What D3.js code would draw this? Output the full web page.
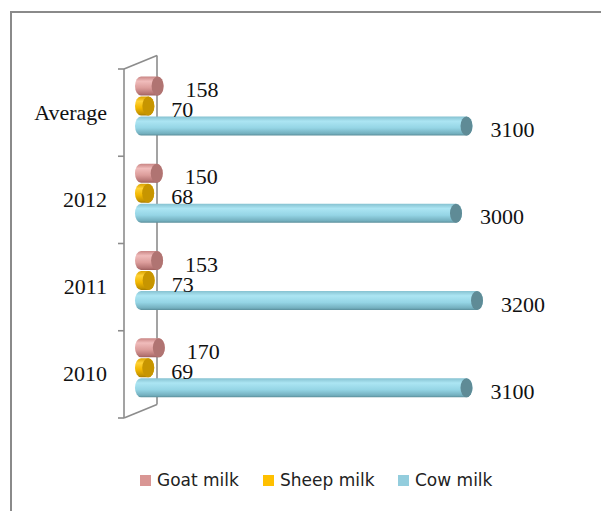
<!DOCTYPE html>
<html>
<head>
<meta charset="utf-8">
<script src="https://cdn.jsdelivr.net/npm/d3@7"></script>
<style>
  body { margin: 0; background: #fff; }
  svg { display: block; }
</style>
</head>
<body>
<div id="chart"></div>
<script>
// categories, top to bottom as drawn
const categories = ["Average", "2012", "2011", "2010"];
const seriesNames = ["Goat milk", "Sheep milk", "Cow milk"];
const goatMilk = [158, 150, 153, 170];
const sheepMilk = [70, 68, 73, 69];
const cowMilk = [3100, 3000, 3200, 3100];

const width = 601, height = 511;
const svg = d3.select("#chart").append("svg")
  .attr("width", width)
  .attr("height", height);

// chart area border (runs off right/bottom like the original crop)
svg.append("rect")
  .attr("x", 11).attr("y", 12)
  .attr("width", 620).attr("height", 530)
  .attr("fill", "#fff")
  .attr("stroke", "#8a8a8a")
  .attr("stroke-width", 2);

const colors = {
  "Goat milk": { stops: ["#c98584", "#f0bcbb", "#dc9d9b", "#b57473", "#9c5f5e"], cap: "#b07472", key: "#d99694" },
  "Sheep milk": { stops: ["#d9a200", "#ffd236", "#f2b700", "#c49300", "#a67c00"], cap: "#c79500", key: "#ffc000" },
  "Cow milk": { stops: ["#86c2d1", "#ace5f3", "#95d5e5", "#73afbe", "#5a8d99"], cap: "#5f8b96", key: "#93cddd" }
};

const defs = svg.append("defs");
seriesNames.forEach((s, i) => {
  const g = defs.append("linearGradient")
    .attr("id", "grad" + i)
    .attr("x1", 0).attr("y1", 0).attr("x2", 0).attr("y2", 1);
  [0, 0.25, 0.6, 0.9, 1].forEach((o, k) => {
    g.append("stop").attr("offset", o).attr("stop-color", colors[s].stops[k]);
  });
});

// scales
const y = d3.scaleBand().domain(categories).range([69, 418]);
const y1 = d3.scaleBand().domain(seriesNames).range([7, 67]);
const x = d3.scaleLinear().domain([0, 3200]).range([141, 477]);

// 3D wall frame
const frontX = 124, depthX = 33, depthY = -13.5;
const wall = svg.append("g")
  .attr("stroke", "#8c8c8c")
  .attr("stroke-width", 1.6)
  .attr("fill", "none");
const [yTop, yBot] = y.range();
wall.append("line").attr("x1", frontX).attr("x2", frontX).attr("y1", yTop).attr("y2", yBot);
wall.append("line").attr("x1", frontX + depthX).attr("x2", frontX + depthX)
  .attr("y1", yTop + depthY).attr("y2", yBot + depthY);
wall.append("line").attr("x1", frontX).attr("y1", yTop)
  .attr("x2", frontX + depthX).attr("y2", yTop + depthY);
wall.append("line").attr("x1", frontX).attr("y1", yBot)
  .attr("x2", frontX + depthX).attr("y2", yBot + depthY);
// ticks at band boundaries
const bounds = categories.map(c => y(c)).concat([yBot]);
wall.selectAll(".tick-b")
  .data(bounds)
  .join("line")
  .attr("x1", frontX - 6).attr("x2", frontX)
  .attr("y1", d => d).attr("y2", d => d);

// category labels
const axis = svg.append("g")
  .attr("transform", `translate(${frontX},0)`)
  .call(d3.axisLeft(y).tickSize(0).tickPadding(17));
axis.select(".domain").remove();
axis.selectAll("text")
  .attr("font-family", "'Liberation Serif', 'Times New Roman', serif")
  .attr("font-size", 22)
  .attr("fill", "#111");

// cylinders
const rx = 6, ry = 9.5;
const values = [goatMilk, sheepMilk, cowMilk];
const labelOffset = [28, 23, 24];

function bodyPath(x0, x1, cy) {
  return `M${x0},${cy - ry}L${x1},${cy - ry}` +
    `A${rx},${ry} 0 0 1 ${x1},${cy + ry}` +
    `L${x0},${cy + ry}` +
    `A${rx},${ry} 0 0 1 ${x0},${cy - ry}Z`;
}

const bars = svg.append("g");
categories.forEach((c, ci) => {
  seriesNames.forEach((s, si) => {
    const v = values[si][ci];
    const cy = y(c) + y1(s) + y1.bandwidth() / 2;
    const g = bars.append("g");
    g.append("path")
      .attr("d", bodyPath(x(0), x(v), cy))
      .attr("fill", `url(#grad${si})`);
    g.append("ellipse")
      .attr("cx", x(v)).attr("cy", cy)
      .attr("rx", rx).attr("ry", ry)
      .attr("fill", colors[s].cap);
  });
});

// value labels
const labels = svg.append("g")
  .attr("font-family", "'Liberation Serif', 'Times New Roman', serif")
  .attr("font-size", 22)
  .attr("fill", "#111");
categories.forEach((c, ci) => {
  seriesNames.forEach((s, si) => {
    const v = values[si][ci];
    const cy = y(c) + y1(s) + y1.bandwidth() / 2;
    labels.append("text")
      .attr("x", x(v) + labelOffset[si])
      .attr("y", cy + 11)
      .text(v);
  });
});

// legend
const legendX = [140, 263, 398];
const legend = svg.append("g")
  .attr("font-family", "'DejaVu Sans', sans-serif")
  .attr("font-size", 17)
  .attr("fill", "#222");
seriesNames.forEach((s, i) => {
  legend.append("rect")
    .attr("x", legendX[i]).attr("y", 475)
    .attr("width", 11).attr("height", 11)
    .attr("fill", colors[s].key);
  legend.append("text")
    .attr("x", legendX[i] + 17)
    .attr("y", 486)
    .text(s);
});
</script>
</body>
</html>
